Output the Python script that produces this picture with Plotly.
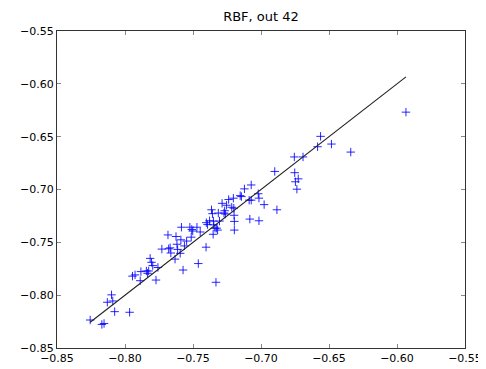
import plotly.graph_objects as go

x_vals = [-0.8256, -0.8170, -0.8154, -0.8130, -0.8099, -0.8090, -0.8076, -0.7966, -0.7945, -0.7926,
          -0.7888, -0.7883, -0.7843, -0.7834, -0.7826, -0.7815, -0.7805, -0.7796, -0.7772, -0.7758,
          -0.7729, -0.7684, -0.7679, -0.7668, -0.7663, -0.7632, -0.7625, -0.7618, -0.7613, -0.7594,
          -0.7589, -0.7585, -0.7573, -0.7563, -0.7547, -0.7523, -0.7513, -0.7509, -0.7502, -0.7471,
          -0.7461, -0.7447, -0.7404, -0.7402, -0.7393, -0.7378, -0.7364, -0.7357, -0.7352, -0.7350,
          -0.7347, -0.7338, -0.7331, -0.7326, -0.7319, -0.7314, -0.7305, -0.7286, -0.7272, -0.7267,
          -0.7262, -0.7253, -0.7238, -0.7215, -0.7203, -0.7200, -0.7198, -0.7196, -0.7196, -0.7153,
          -0.7144, -0.7122, -0.7087, -0.7082, -0.7072, -0.7072, -0.7020, -0.7015, -0.7015, -0.6977,
          -0.6899, -0.6883, -0.6755, -0.6752, -0.6747, -0.6736, -0.6726, -0.6691, -0.6584, -0.6562,
          -0.6482, -0.6340, -0.5934]
y_vals = [-0.8235, -0.8277, -0.8268, -0.8067, -0.7997, -0.8055, -0.8156, -0.8162, -0.7820, -0.7808,
          -0.7863, -0.7777, -0.7771, -0.7793, -0.7771, -0.7652, -0.7689, -0.7720, -0.7857, -0.7738,
          -0.7564, -0.7430, -0.7561, -0.7552, -0.7601, -0.7659, -0.7445, -0.7518, -0.7567, -0.7604,
          -0.7476, -0.7357, -0.7762, -0.7534, -0.7488, -0.7357, -0.7451, -0.7378, -0.7393, -0.7357,
          -0.7701, -0.7402, -0.7546, -0.7314, -0.7332, -0.7296, -0.7192, -0.7229, -0.7424, -0.7299,
          -0.7335, -0.7366, -0.7878, -0.7366, -0.7384, -0.7223, -0.7299, -0.7131, -0.7223, -0.7201,
          -0.7232, -0.7149, -0.7095, -0.7168, -0.7082, -0.7177, -0.7244, -0.7302, -0.7384, -0.7058,
          -0.7067, -0.6994, -0.7101, -0.7280, -0.6957, -0.7101, -0.7040, -0.7082, -0.7296, -0.7143,
          -0.6829, -0.7192, -0.6692, -0.6841, -0.6927, -0.6997, -0.6899, -0.6692, -0.6595, -0.6497,
          -0.6570, -0.6646, -0.6268]
line_x = [-0.8256, -0.5934]
line_y = [-0.8256, -0.5934]
tick_vals = [-0.85, -0.80, -0.75, -0.70, -0.65, -0.60, -0.55]
title_text = "RBF, out 42"

fig = go.Figure()
fig.add_trace(go.Scatter(x=x_vals, y=y_vals, mode="markers",
                         marker=dict(symbol="cross-thin", size=6, color="blue",
                                     line=dict(color="rgba(0,0,255,0.85)", width=1)),
                         showlegend=False))
fig.add_trace(go.Scatter(x=line_x, y=line_y, mode="lines",
                         line=dict(color="#222222", width=1.1), showlegend=False))

axis_common = dict(showgrid=False, zeroline=False, showline=True, linecolor="#333333",
                   linewidth=1.2, mirror="ticks", ticks="inside", ticklen=4,
                   tickcolor="#888888", tickvals=tick_vals, tickformat=".2f",
                   ticklabeloverflow="allow",
                   tickfont=dict(family="DejaVu Sans", size=11, color="black"))

fig.update_layout(
    width=486, height=369,
    margin=dict(l=45, r=18, t=23, b=18),
    paper_bgcolor="white", plot_bgcolor="white",
    title=dict(text=title_text, x=0.5, xanchor="center", xref="paper", y=1, yref="container",
               yanchor="top", pad=dict(t=4), font=dict(family="DejaVu Sans", size=13, color="black")),
    xaxis=dict(range=[-0.85, -0.55], **axis_common),
    yaxis=dict(range=[-0.85, -0.55], **axis_common),
)

fig.write_html("out.html")
